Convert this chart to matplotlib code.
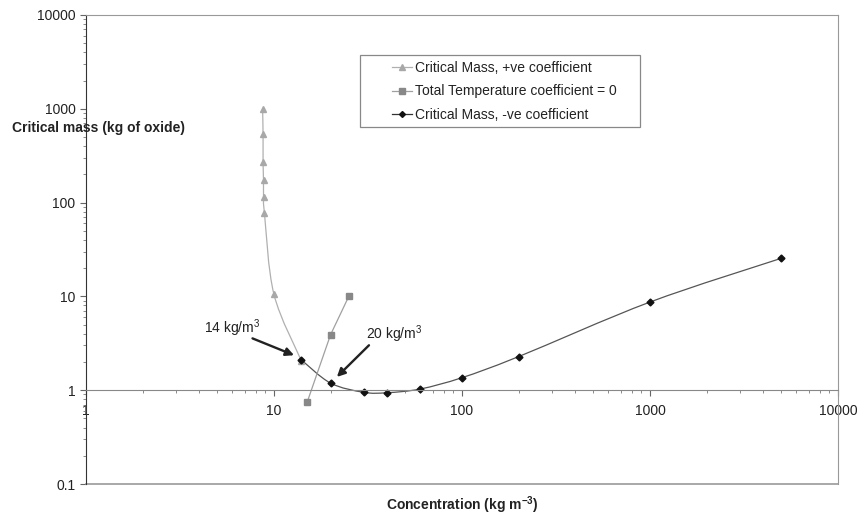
import numpy as np
import matplotlib
matplotlib.use('Agg')
import matplotlib.pyplot as plt
from matplotlib.path import Path
from matplotlib.patches import PathPatch, Rectangle
from matplotlib.ticker import FixedLocator, LogLocator, FuncFormatter, NullFormatter

plt.rcParams['font.family'] = ['Liberation Sans', 'DejaVu Sans']
plt.rcParams['mathtext.fontset'] = 'custom'
plt.rcParams['mathtext.rm'] = 'Liberation Sans'
plt.rcParams['mathtext.bf'] = 'Liberation Sans:bold'

# critical mass, +ve coefficient
pos_x = [8.7, 8.75, 8.75, 8.8, 8.8, 8.9, 10.0, 14.0]
pos_y = [1000, 540, 270, 172, 115, 77, 10.5, 2.05]
# total temperature coefficient = 0
zero_x = [15, 20, 25]
zero_y = [0.74, 3.9, 10.0]
# critical mass, -ve coefficient
neg_x = [14, 20, 30, 40, 60, 100, 200, 1000, 5000]
neg_y = [2.1, 1.19, 0.95, 0.94, 1.03, 1.36, 2.28, 8.7, 25.5]

labels = ['Critical Mass, +ve coefficient', 'Total Temperature coefficient = 0',
          'Critical Mass, -ve coefficient']


def smooth(xs, ys):
    # excel-like smoothed line, bezier built in log space
    p = np.column_stack([np.log10(xs), np.log10(ys)])
    n = len(p)
    verts = [p[0]]
    codes = [Path.MOVETO]
    for i in range(n - 1):
        p0 = p[max(i - 1, 0)]
        p1 = p[i]
        p2 = p[i + 1]
        p3 = p[min(i + 2, n - 1)]
        verts += [p1 + (p2 - p0) / 6, p2 - (p3 - p1) / 6, p2]
        codes += [Path.CURVE4] * 3
    return Path(10 ** np.array(verts), codes)


fig = plt.figure(figsize=(8.57, 5.16), dpi=100)
ax = fig.add_axes([0.1003, 0.062, 0.8775, 0.909])
ax.set_xscale('log')
ax.set_yscale('log')
ax.set_xlim(1, 10000)
ax.set_ylim(0.1, 10000)

ax.add_patch(PathPatch(smooth(pos_x, pos_y), fill=False, ec='#b0b0b0', lw=0.9))
ax.add_patch(PathPatch(smooth(neg_x, neg_y), fill=False, ec='#555555', lw=0.9))
ax.plot(pos_x, pos_y, ls='none', marker='^', ms=5, color='#a8a8a8')
ax.plot(zero_x, zero_y, '-', color='#a0a0a0', lw=0.9, marker='s', ms=5,
        mfc='#888888', mec='#888888')
ax.plot(neg_x, neg_y, ls='none', marker='D', ms=3.5, color='#111111')

# legend: own box, entries without frame
ax.add_patch(Rectangle((0.3644, 0.761), 0.3723, 0.1535, transform=ax.transAxes,
                       fc='white', ec='#888888', lw=0.9, zorder=4))
h1, = ax.plot([], [], '-', color='#b0b0b0', lw=0.9, marker='^', ms=4, mfc='#a8a8a8', mec='#a8a8a8')
h2, = ax.plot([], [], '-', color='#a0a0a0', lw=0.9, marker='s', ms=4, mfc='#888888', mec='#888888')
h3, = ax.plot([], [], '-', color='#333333', lw=0.9, marker='D', ms=3, mfc='#111111', mec='#111111')
leg = ax.legend([h1, h2, h3], labels, loc='upper left', bbox_to_anchor=(0.407, 0.902),
                borderaxespad=0, borderpad=0, fontsize=10, frameon=False, handlelength=1.45,
                handletextpad=0.2, labelspacing=0.68)
leg.set_zorder(5)
for t in leg.get_texts():
    t.set_color('#222222')

# annotations
ax.annotate('', xy=(13.2, 2.3), xytext=(7.45, 3.66),
            arrowprops=dict(arrowstyle='-|>', lw=1.7, color='#222222', mutation_scale=12))
ax.annotate('', xy=(21.1, 1.32), xytext=(32.8, 3.16),
            arrowprops=dict(arrowstyle='-|>', lw=1.7, color='#222222', mutation_scale=12))
ax.text(5.98, 4.57, '14 kg/m$^3$', ha='center', va='center', fontsize=10, color='#222222')
ax.text(43.5, 3.94, '20 kg/m$^3$', ha='center', va='center', fontsize=10, color='#222222')

# axes: x axis drawn through y = 1, box around plot
for s in ['top', 'right', 'left']:
    ax.spines[s].set_color('#999999')
ax.spines['left'].set_color('#333333')
ax.spines['bottom'].set_position(('data', 1))
ax.spines['bottom'].set_color('#888888')
ax.axhline(0.1, color='#999999', lw=1.2, clip_on=False)

fmt = FuncFormatter(lambda v, p: '%g' % v)
ax.xaxis.set_major_locator(FixedLocator([1, 10, 100, 1000, 10000]))
ax.yaxis.set_major_locator(FixedLocator([0.1, 1, 10, 100, 1000, 10000]))
ax.xaxis.set_major_formatter(fmt)
ax.yaxis.set_major_formatter(fmt)
ax.xaxis.set_minor_locator(LogLocator(base=10, subs=np.arange(2, 10)))
ax.yaxis.set_minor_locator(LogLocator(base=10, subs=np.arange(2, 10)))
ax.xaxis.set_minor_formatter(NullFormatter())
ax.yaxis.set_minor_formatter(NullFormatter())
ax.tick_params(which='major', length=4, color='#666666', labelsize=10, labelcolor='#222222')
ax.tick_params(which='minor', length=2.5, color='#777777')
ax.tick_params(axis='x', pad=6)

fig.text(12 / 857, 1 - 128 / 516, 'Critical mass (kg of oxide)', fontsize=10,
         fontweight='bold', ha='left', va='center', color='#222222')
fig.text(0.539, 1 - 505 / 516, r'Concentration (kg m$^{\mathbf{-3}}$)', fontsize=10,
         fontweight='bold', ha='center', va='center', color='#222222')

fig.savefig('out.png', dpi=100)
